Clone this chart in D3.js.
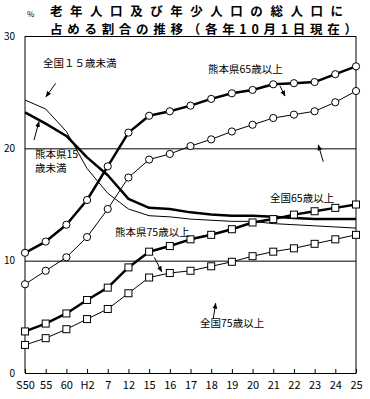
<!DOCTYPE html>
<html>
<head>
<meta charset="utf-8">
<script src="https://cdn.jsdelivr.net/npm/d3@7"></script>
<style>
  body { margin: 0; background: #fff; }
  text { font-family: "Noto Sans CJK JP", "Liberation Sans", sans-serif; }
</style>
</head>
<body>
<div id="container"></div>
<script>
let w = 370;
let h = 399;

// years (x categories)
let years = ["S50","55","60","H2","7","12","15","16","17","18","19","20","21","22","23","24","25"];

// series values, percent
let kumamoto65 = [10.7,11.7,13.2,15.4,18.4,21.4,22.9,23.3,23.8,24.4,24.9,25.2,25.7,25.8,25.9,26.6,27.3];
let national65 = [7.9,9.1,10.3,12.1,14.6,17.4,19.0,19.5,20.2,20.8,21.5,22.1,22.7,23.0,23.3,24.1,25.1];
let kumamoto75 = [3.7,4.4,5.3,6.5,7.6,9.4,10.8,11.3,11.9,12.3,12.8,13.4,13.7,14.1,14.4,14.7,15.0];
let national75 = [2.5,3.1,3.9,4.8,5.7,7.1,8.5,8.9,9.1,9.5,9.9,10.4,10.8,11.1,11.5,11.9,12.3];
let kumamoto15 = [23.2,22.2,21.1,19.2,17.6,15.5,14.7,14.6,14.3,14.1,14.0,14.0,13.9,13.8,13.7,13.7,13.7];
let national15 = [24.3,23.5,21.5,18.2,16.0,14.6,14.0,13.9,13.7,13.6,13.5,13.5,13.3,13.2,13.1,13.0,12.9];

let yTicks = [0, 10, 20, 30];

// plot box
let pLeft = 25, pRight = 356, pTop = 36, pBottom = 373;

let viz = d3.select("#container")
  .append("svg")
    .attr("width", w)
    .attr("height", h)
    .style("background-color", "white");

let xScale = d3.scalePoint().domain(years).range([pLeft, pRight]).padding(0);
let yScale = d3.scaleLinear().domain([0, 30]).range([pBottom, pTop]);

// y axis with full-width grid lines
let yAxisGroup = viz.append("g")
  .attr("transform", "translate(" + pLeft + ",0)")
  .call(d3.axisLeft(yScale).tickValues(yTicks).tickSize(-(pRight - pLeft)).tickPadding(10));
yAxisGroup.select(".domain").remove();
yAxisGroup.selectAll(".tick line").attr("stroke", "#000").attr("stroke-width", 1);
yAxisGroup.selectAll(".tick text")
  .attr("font-size", 10)
  .attr("font-family", "Liberation Sans, sans-serif")
  .attr("fill", "#000");

// frame: left and right sides
viz.append("line").attr("x1", pLeft).attr("x2", pLeft).attr("y1", pTop).attr("y2", pBottom).attr("stroke", "#000");
viz.append("line").attr("x1", pRight).attr("x2", pRight).attr("y1", pTop).attr("y2", pBottom).attr("stroke", "#000");

// x axis, ticks point inward
let xAxisGroup = viz.append("g")
  .attr("transform", "translate(0," + pBottom + ")")
  .call(d3.axisBottom(xScale).tickSize(-4).tickSizeOuter(0).tickPadding(8));
xAxisGroup.select(".domain").attr("stroke", "#000");
xAxisGroup.selectAll(".tick line").attr("stroke", "#000");
xAxisGroup.selectAll(".tick text")
  .attr("font-size", 11)
  .attr("font-family", "Liberation Sans, sans-serif")
  .attr("fill", "#000");

let line = d3.line()
  .x(function(d, i){ return xScale(years[i]); })
  .y(function(d){ return yScale(d); });

let series = [
  {values: national15, width: 1, marker: null},
  {values: kumamoto15, width: 2.5, marker: null},
  {values: national65, width: 1, marker: "circle"},
  {values: kumamoto65, width: 2.5, marker: "circle"},
  {values: national75, width: 1, marker: "square"},
  {values: kumamoto75, width: 2.5, marker: "square"}
];

series.forEach(function(s){
  viz.append("path")
    .attr("d", line(s.values))
    .attr("fill", "none")
    .attr("stroke", "#000")
    .attr("stroke-width", s.width)
    .attr("stroke-linejoin", "round");
});

series.forEach(function(s){
  if(s.marker == "circle"){
    viz.append("g").selectAll("circle").data(s.values).enter()
      .append("circle")
        .attr("cx", function(d, i){ return xScale(years[i]); })
        .attr("cy", function(d){ return yScale(d); })
        .attr("r", 3.6)
        .attr("fill", "white")
        .attr("stroke", "#000")
        .attr("stroke-width", 1);
  }else if(s.marker == "square"){
    viz.append("g").selectAll("rect").data(s.values).enter()
      .append("rect")
        .attr("x", function(d, i){ return xScale(years[i]) - 3.5; })
        .attr("y", function(d){ return yScale(d) - 3.5; })
        .attr("width", 7)
        .attr("height", 7)
        .attr("fill", "white")
        .attr("stroke", "#000")
        .attr("stroke-width", 1);
  }
});

// title (two lines)
viz.append("text")
  .attr("x", 50).attr("y", 16)
  .attr("font-size", 12.5).attr("font-weight", "bold")
  .attr("textLength", 293).attr("lengthAdjust", "spacing")
  .text("老年人口及び年少人口の総人口に");
viz.append("text")
  .attr("x", 50).attr("y", 34)
  .attr("font-size", 12.5).attr("font-weight", "bold")
  .attr("textLength", 307).attr("lengthAdjust", "spacing")
  .text("占める割合の推移（各年10月1日現在）");

viz.append("text")
  .attr("x", 27).attr("y", 17)
  .attr("font-size", 8)
  .text("%");

// series labels
let labels = [
  {t: "全国１５歳未満", x: 43, y: 67},
  {t: "熊本県65歳以上", x: 208, y: 73},
  {t: "熊本県15", x: 35, y: 158},
  {t: "歳未満", x: 35, y: 172},
  {t: "全国65歳以上", x: 270, y: 202},
  {t: "熊本県75歳以上", x: 115, y: 236},
  {t: "全国75歳以上", x: 200, y: 327}
];
viz.selectAll(".lbl").data(labels).enter()
  .append("text")
    .attr("class", "lbl")
    .attr("x", function(d){ return d.x; })
    .attr("y", function(d){ return d.y; })
    .attr("font-size", 10.5)
    .text(function(d){ return d.t; });

// arrows
viz.append("defs").append("marker")
  .attr("id", "ah")
  .attr("viewBox", "0 0 10 10")
  .attr("refX", 9).attr("refY", 5)
  .attr("markerWidth", 6).attr("markerHeight", 6)
  .attr("orient", "auto")
  .append("path").attr("d", "M0,1 L10,5 L0,9 Z").attr("fill", "#000");

let arrows = [
  [55.7, 83.3, 46, 96.7],
  [34, 140, 39, 121.7],
  [280, 86, 285, 96],
  [323.3, 161.7, 318.3, 145],
  [154.3, 257.3, 161.7, 271.7],
  [213.3, 318.3, 215.7, 303.3]
];
viz.selectAll(".arr").data(arrows).enter()
  .append("line")
    .attr("class", "arr")
    .attr("x1", function(d){ return d[0]; })
    .attr("y1", function(d){ return d[1]; })
    .attr("x2", function(d){ return d[2]; })
    .attr("y2", function(d){ return d[3]; })
    .attr("stroke", "#000")
    .attr("stroke-width", 1)
    .attr("marker-end", "url(#ah)");
</script>
</body>
</html>
